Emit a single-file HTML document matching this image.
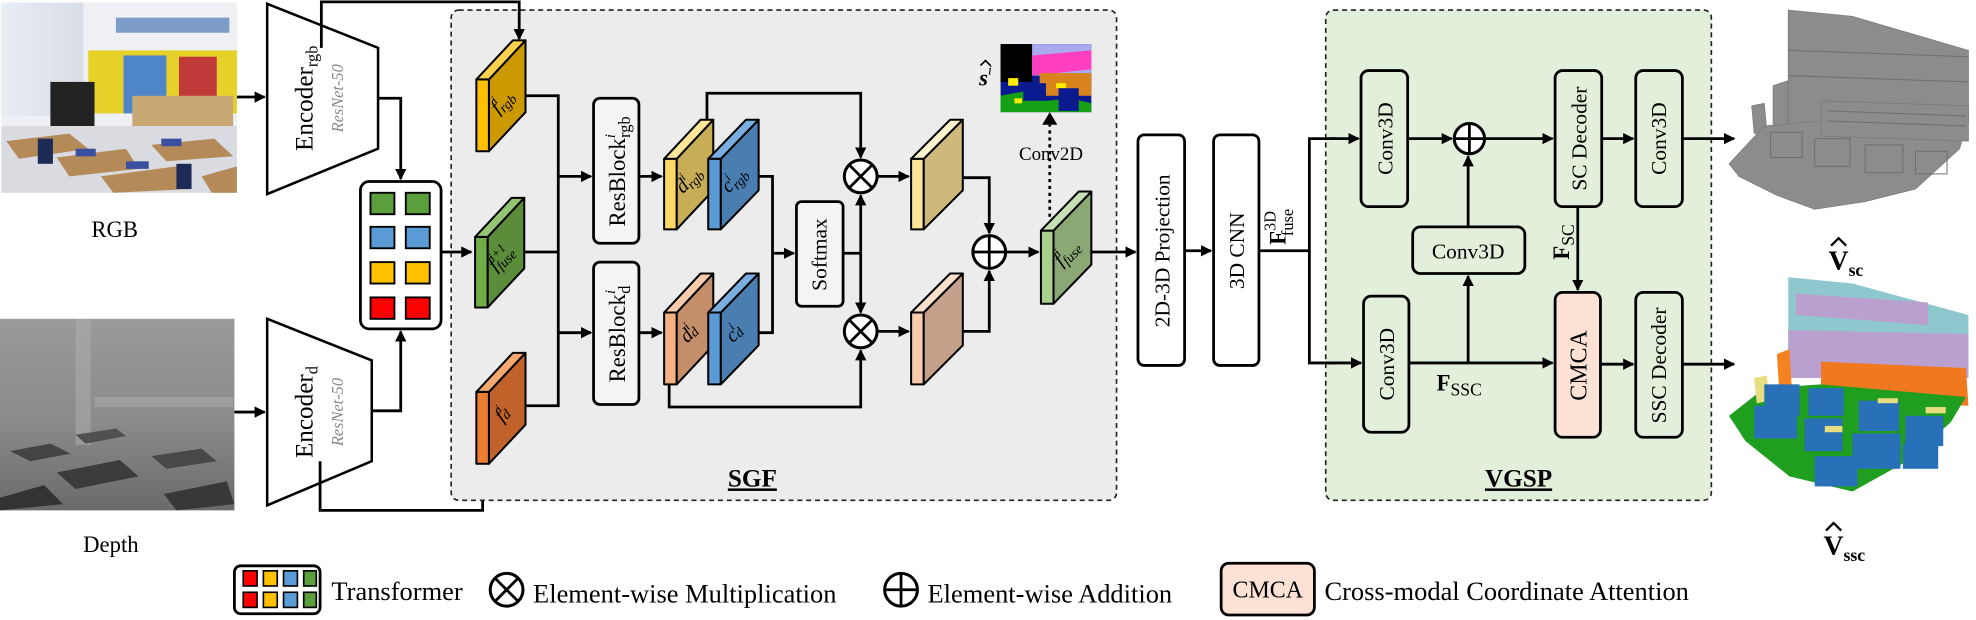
<!DOCTYPE html>
<html><head><meta charset="utf-8"><style>
html,body{margin:0;padding:0;background:#fff;}
svg{display:block;}
svg text{font-family:"Liberation Serif","Times New Roman",Times,"DejaVu Serif","Noto Serif CJK SC",serif;fill:#000;}
</style></head><body>
<svg width="1976" height="620" viewBox="0 0 1568 492" preserveAspectRatio="none" xmlns="http://www.w3.org/2000/svg">
<defs>
<marker id="ah" markerWidth="10" markerHeight="10" refX="8" refY="5" orient="auto" markerUnits="userSpaceOnUse">
<path d="M0,0.5 L9,5 L0,9.5 z" fill="#000"/>
</marker>
<linearGradient id="dg" x1="0" y1="0" x2="0" y2="1">
<stop offset="0" stop-color="#9a9a9a"/><stop offset="0.55" stop-color="#8a8a8a"/><stop offset="1" stop-color="#6a6a6a"/>
</linearGradient>
<linearGradient id="win" x1="0" y1="0" x2="1" y2="0">
<stop offset="0" stop-color="#e8eef5"/><stop offset="1" stop-color="#d8dde6"/>
</linearGradient>
</defs>

<!-- RGB photo -->
<g>
<rect x="1" y="2" width="187" height="151" fill="#eef0f4"/>
<rect x="1" y="2" width="65" height="90" fill="url(#win)"/>
<rect x="70" y="40" width="118" height="50" fill="#e6d02a"/>
<rect x="98" y="44" width="34" height="46" fill="#4f86c9"/>
<rect x="142" y="45" width="30" height="42" fill="#c03a3a"/>
<rect x="92" y="14" width="90" height="12" fill="#7d9cc8"/>
<rect x="40" y="65" width="35" height="35" fill="#222"/>
<rect x="105" y="76" width="80" height="30" fill="#c8a872"/>
<rect x="1" y="100" width="187" height="53" fill="#d9dbe0"/>
<polygon points="5,112 55,106 70,118 15,126" fill="#b48a58"/>
<polygon points="45,125 100,118 110,134 55,140" fill="#b48a58"/>
<polygon points="80,140 140,132 150,150 90,153" fill="#b48a58"/>
<polygon points="120,115 170,110 185,124 132,128" fill="#b48a58"/>
<polygon points="160,140 188,132 188,153 168,153" fill="#b48a58"/>
<rect x="60" y="118" width="16" height="6" fill="#3a4fa0"/>
<rect x="100" y="128" width="18" height="6" fill="#3a4fa0"/>
<rect x="128" y="110" width="16" height="6" fill="#3a4fa0"/>
<rect x="30" y="110" width="12" height="20" fill="#1d2a55"/>
<rect x="140" y="130" width="12" height="20" fill="#1d2a55"/>
</g>
<text x="91" y="188" font-size="18" text-anchor="middle">RGB</text>

<!-- Depth photo -->
<g>
<rect x="0" y="253" width="186" height="152" fill="url(#dg)"/>
<rect x="60" y="253" width="12" height="100" fill="#b0b0b0" opacity="0.5"/>
<polygon points="8,358 40,352 56,360 24,366" fill="#444"/>
<polygon points="45,375 95,365 110,378 60,388" fill="#3c3c3c"/>
<polygon points="120,362 160,356 172,366 132,372" fill="#484848"/>
<polygon points="60,345 92,340 100,346 68,352" fill="#505050"/>
<polygon points="0,395 35,385 50,400 0,405" fill="#333"/>
<polygon points="130,392 180,382 186,400 140,405" fill="#383838"/>
<rect x="75" y="315" width="110" height="8" fill="#a8a8a8" opacity="0.6"/>
</g>
<text x="88" y="438" font-size="18" text-anchor="middle">Depth</text>

<!-- Encoders -->
<polygon points="212,3 300,38 300,118 212,154" fill="#fff" stroke="#000" stroke-width="2"/>
<polygon points="212,253 295,286 295,366 212,401" fill="#fff" stroke="#000" stroke-width="2"/>
<text transform="translate(248,78) rotate(-90)" font-size="20" text-anchor="middle">Encoder<tspan font-size="13" dy="4">rgb</tspan></text>
<text transform="translate(272,78) rotate(-90)" font-size="13" font-style="italic" text-anchor="middle" style="fill:#888">ResNet-50</text>
<text transform="translate(248,327) rotate(-90)" font-size="20" text-anchor="middle">Encoder<tspan font-size="13" dy="4">d</tspan></text>
<text transform="translate(272,327) rotate(-90)" font-size="13" font-style="italic" text-anchor="middle" style="fill:#888">ResNet-50</text>

<g stroke="#000" stroke-width="2.2" fill="none">
<line x1="188" y1="77" x2="210" y2="77" marker-end="url(#ah)"/>
<line x1="186" y1="327" x2="210" y2="327" marker-end="url(#ah)"/>
<polyline points="300,78 318,78 318,142" marker-end="url(#ah)"/>
<polyline points="295,326 318,326 318,263" marker-end="url(#ah)"/>
<polyline points="255,38 255,1.5 412,1.5 412,31" marker-end="url(#ah)"/>
<polyline points="254,366 254,405 383,405 383,370" marker-end="url(#ah)"/>
</g>

<!-- SGF box -->
<rect x="358" y="8" width="528" height="389" rx="6" fill="#ececec" stroke="#222" stroke-width="1.3" stroke-dasharray="4,3"/>
<!-- VGSP box -->
<rect x="1052" y="8" width="306" height="389" rx="6" fill="#e2efda" stroke="#222" stroke-width="1.3" stroke-dasharray="4,3"/>
<line x1="412" y1="8" x2="412" y2="31" stroke="#000" stroke-width="2.2" marker-end="url(#ah)"/>

<!-- Transformer -->
<rect x="286" y="144" width="64" height="117" rx="7" fill="#fff" stroke="#000" stroke-width="2.2"/>
<g stroke="#000" stroke-width="1.5">
<rect x="294" y="153" width="19" height="17" fill="#5b9e3c"/><rect x="322" y="153" width="19" height="17" fill="#5b9e3c"/>
<rect x="294" y="180" width="19" height="17" fill="#5b9bd5"/><rect x="322" y="180" width="19" height="17" fill="#5b9bd5"/>
<rect x="294" y="208" width="19" height="17" fill="#ffc000"/><rect x="322" y="208" width="19" height="17" fill="#ffc000"/>
<rect x="294" y="236" width="19" height="17" fill="#ff0000"/><rect x="322" y="236" width="19" height="17" fill="#ff0000"/>
</g>
<line x1="350" y1="200" x2="374" y2="200" stroke="#000" stroke-width="2.2" marker-end="url(#ah)"/>

<!-- Blocks -->
<g stroke="#000" stroke-width="1.6" stroke-linejoin="round">
<g transform="translate(378,63)"><rect x="0" y="0" width="10" height="57" fill="#ffc000"/><polygon points="10,0 39,-31 39,26 10,57" fill="#cc9a00"/><polygon points="0,0 10,0 39,-31 29,-31" fill="#ffd24d"/></g>
<g transform="translate(377,188)"><rect x="0" y="0" width="10" height="56" fill="#70ad47"/><polygon points="10,0 39,-31 39,25 10,56" fill="#5b8c3a"/><polygon points="0,0 10,0 39,-31 29,-31" fill="#93c572"/></g>
<g transform="translate(378,311)"><rect x="0" y="0" width="10" height="57" fill="#ed7d31"/><polygon points="10,0 39,-31 39,26 10,57" fill="#c0622a"/><polygon points="0,0 10,0 39,-31 29,-31" fill="#f4a870"/></g>
<g transform="translate(527,126)"><rect x="0" y="0" width="10" height="56" fill="#ffd966"/><polygon points="10,0 39,-31 39,25 10,56" fill="#c8ad57"/><polygon points="0,0 10,0 39,-31 29,-31" fill="#ffe699"/></g>
<g transform="translate(562,126)"><rect x="0" y="0" width="10" height="56" fill="#5b9bd5"/><polygon points="10,0 40,-31 40,25 10,56" fill="#4a7db0"/><polygon points="0,0 10,0 40,-31 30,-31" fill="#7aaee0"/></g>
<g transform="translate(527,248)"><rect x="0" y="0" width="10" height="57" fill="#f4b183"/><polygon points="10,0 39,-31 39,26 10,57" fill="#c48e6a"/><polygon points="0,0 10,0 39,-31 29,-31" fill="#f8cbad"/></g>
<g transform="translate(562,248)"><rect x="0" y="0" width="10" height="57" fill="#5b9bd5"/><polygon points="10,0 40,-31 40,26 10,57" fill="#4a7db0"/><polygon points="0,0 10,0 40,-31 30,-31" fill="#7aaee0"/></g>
<g transform="translate(723,126)"><rect x="0" y="0" width="10" height="56" fill="#ffe699"/><polygon points="10,0 41,-31 41,25 10,56" fill="#cdb97c"/><polygon points="0,0 10,0 41,-31 31,-31" fill="#fff2cc"/></g>
<g transform="translate(723,248)"><rect x="0" y="0" width="10" height="57" fill="#f8cbad"/><polygon points="10,0 41,-31 41,26 10,57" fill="#c5a08a"/><polygon points="0,0 10,0 41,-31 31,-31" fill="#fbe0ce"/></g>
<g transform="translate(826,183)"><rect x="0" y="0" width="10" height="58" fill="#a9d18e"/><polygon points="10,0 40,-31 40,27 10,58" fill="#8aa874"/><polygon points="0,0 10,0 40,-31 30,-31" fill="#c5e0b4"/></g>
</g>
<!-- block labels -->
<g font-style="italic" font-size="16">
<text transform="translate(402,84) rotate(-45)" text-anchor="middle">f<tspan font-size="10" dy="-7">i</tspan><tspan font-size="11" dx="-3" dy="10">rgb</tspan></text>
<text transform="translate(401,208) rotate(-45)" text-anchor="middle">f<tspan font-size="10" dy="-7">i+1</tspan><tspan font-size="11" dx="-15" dy="10">fuse</tspan></text>
<text transform="translate(402,332) rotate(-45)" text-anchor="middle">f<tspan font-size="10" dy="-7">i</tspan><tspan font-size="11" dx="-3" dy="8">d</tspan></text>
<text transform="translate(550,146) rotate(-45)" text-anchor="middle">d<tspan font-size="10" dy="-7">i</tspan><tspan font-size="11" dx="-3" dy="10">rgb</tspan></text>
<text transform="translate(586,146) rotate(-45)" text-anchor="middle">c<tspan font-size="10" dy="-7">i</tspan><tspan font-size="11" dx="-3" dy="10">rgb</tspan></text>
<text transform="translate(550,268) rotate(-45)" text-anchor="middle">d<tspan font-size="10" dy="-7">i</tspan><tspan font-size="11" dx="-3" dy="8">d</tspan></text>
<text transform="translate(586,268) rotate(-45)" text-anchor="middle">c<tspan font-size="10" dy="-7">i</tspan><tspan font-size="11" dx="-3" dy="8">d</tspan></text>
<text transform="translate(850,204) rotate(-45)" text-anchor="middle">f<tspan font-size="10" dy="-7">i</tspan><tspan font-size="11" dx="-3" dy="10">fuse</tspan></text>
</g>

<!-- SGF connectors -->
<g stroke="#000" stroke-width="2.2" fill="none">
<polyline points="417,76 443,76 443,322 417,322"/>
<line x1="416" y1="200" x2="443" y2="200"/>
<line x1="443" y1="140" x2="469" y2="140" marker-end="url(#ah)"/>
<line x1="443" y1="264" x2="469" y2="264" marker-end="url(#ah)"/>
<line x1="507" y1="140" x2="525" y2="140" marker-end="url(#ah)"/>
<line x1="507" y1="264" x2="525" y2="264" marker-end="url(#ah)"/>
<polyline points="561,95 561,74 683,74 683,125" marker-end="url(#ah)"/>
<polyline points="602,140 613,140 613,264 602,264"/>
<line x1="613" y1="201" x2="630" y2="201" marker-end="url(#ah)"/>
<line x1="669" y1="201" x2="683" y2="201"/>
<line x1="683" y1="201" x2="683" y2="155" marker-end="url(#ah)"/>
<line x1="683" y1="201" x2="683" y2="248" marker-end="url(#ah)"/>
<polyline points="531,305 531,323 683,323 683,278" marker-end="url(#ah)"/>
<line x1="696" y1="140" x2="721" y2="140" marker-end="url(#ah)"/>
<line x1="696" y1="263" x2="721" y2="263" marker-end="url(#ah)"/>
<polyline points="764,141 785,141 785,185" marker-end="url(#ah)"/>
<polyline points="764,263 785,263 785,215" marker-end="url(#ah)"/>
<line x1="798" y1="200" x2="824" y2="200" marker-end="url(#ah)"/>
<line x1="833" y1="172" x2="833" y2="99" stroke-dasharray="2.5,3"/>
</g>
<path d="M827,99 L833,89 L839,99 z" fill="#000"/>
<!-- circles -->
<g stroke="#000" stroke-width="2.4" fill="#fff">
<circle cx="683" cy="140" r="13"/><circle cx="683" cy="263" r="13"/>
<circle cx="785" cy="200" r="13"/><circle cx="1166" cy="110" r="12"/>
</g>
<g stroke="#000" stroke-width="2.2">
<line x1="674" y1="131" x2="692" y2="149"/><line x1="692" y1="131" x2="674" y2="149"/>
<line x1="674" y1="254" x2="692" y2="272"/><line x1="692" y1="254" x2="674" y2="272"/>
<line x1="772" y1="200" x2="798" y2="200"/><line x1="785" y1="187" x2="785" y2="213"/>
<line x1="1154" y1="110" x2="1178" y2="110"/><line x1="1166" y1="98" x2="1166" y2="122"/>
</g>

<!-- ResBlocks & Softmax -->
<g stroke="#000" stroke-width="2.2">
<rect x="471" y="78" width="36" height="115" rx="5" fill="#f4f4f4"/>
<rect x="471" y="208" width="36" height="113" rx="5" fill="#f4f4f4"/>
<rect x="632" y="160" width="37" height="83" rx="4" fill="#f4f4f4"/>
</g>
<text transform="translate(496,136) rotate(-90)" font-size="18" text-anchor="middle">ResBlock<tspan font-size="12" font-style="italic" dy="-8">i</tspan><tspan font-size="13" dx="-3" dy="12">rgb</tspan></text>
<text transform="translate(496,265) rotate(-90)" font-size="18" text-anchor="middle">ResBlock<tspan font-size="12" font-style="italic" dy="-8">i</tspan><tspan font-size="13" dx="-3" dy="12">d</tspan></text>
<text transform="translate(656,202) rotate(-90)" font-size="17" text-anchor="middle">Softmax</text>

<!-- seg image -->
<g>
<rect x="794" y="35" width="72" height="54" fill="#0b1a8f"/>
<rect x="794" y="35" width="25" height="30" fill="#000"/>
<rect x="819" y="35" width="47" height="25" fill="#a9a9f0"/>
<polygon points="819,44 866,40 866,55 819,60" fill="#ff3fbf"/>
<rect x="825" y="58" width="41" height="18" fill="#d8831c"/>
<polygon points="794,76 815,72 830,80 850,78 866,82 866,89 794,89" fill="#15a015"/>
<rect x="800" y="62" width="8" height="6" fill="#ffee00"/><rect x="838" y="66" width="8" height="4" fill="#ffee00"/>
<rect x="805" y="78" width="6" height="4" fill="#ffee00"/>
<rect x="812" y="66" width="18" height="14" fill="#0b1a8f"/><rect x="840" y="70" width="16" height="18" fill="#0b1a8f"/>
</g>
<text x="777" y="68" font-size="18" font-weight="bold" font-style="italic">s<tspan font-size="11" font-weight="normal" dy="-9">i</tspan></text>
<polyline points="778,52 782,48 786,52" fill="none" stroke="#000" stroke-width="1.3"/>
<text x="834" y="127" font-size="15" text-anchor="middle">Conv2D</text>
<text x="597" y="386" font-size="20" font-weight="bold" text-anchor="middle" text-decoration="underline">SGF</text>

<!-- 2D-3D projection, 3D CNN -->
<g fill="#fff" stroke="#000" stroke-width="2.2">
<rect x="903" y="107" width="37" height="183" rx="5"/>
<rect x="963" y="107" width="36" height="183" rx="5"/>
</g>
<text transform="translate(928,199) rotate(-90)" font-size="17" text-anchor="middle">2D-3D Projection</text>
<text transform="translate(987,199) rotate(-90)" font-size="17" text-anchor="middle">3D CNN</text>
<g stroke="#000" stroke-width="2.2" fill="none">
<line x1="866" y1="200" x2="901" y2="200" marker-end="url(#ah)"/>
<line x1="940" y1="199" x2="961" y2="199" marker-end="url(#ah)"/>
<line x1="999" y1="199" x2="1039" y2="199"/>
<polyline points="1060,110 1039,110 1039,288 1060,288"/>
<line x1="1055" y1="110" x2="1078" y2="110" marker-end="url(#ah)"/>
<line x1="1055" y1="288" x2="1080" y2="288" marker-end="url(#ah)"/>
</g>
<text transform="translate(1020,180) rotate(-90)" font-size="18" font-weight="bold" text-anchor="middle">F<tspan font-size="13" font-weight="normal" dy="-8">3D</tspan><tspan font-size="13" font-weight="normal" dx="-20" dy="14">fuse</tspan></text>

<!-- VGSP contents -->
<g fill="#e2efda" stroke="#000" stroke-width="2.2">
<rect x="1080" y="56" width="37" height="108" rx="6"/>
<rect x="1082" y="235" width="36" height="108" rx="6"/>
<rect x="1121" y="180" width="89" height="37" rx="6"/>
<rect x="1234" y="56" width="37" height="108" rx="6"/>
<rect x="1298" y="56" width="37" height="108" rx="6"/>
<rect x="1234" y="232" width="36" height="115" rx="6" fill="#fbe2d5"/>
<rect x="1298" y="232" width="37" height="115" rx="6"/>
</g>
<g font-size="17" text-anchor="middle">
<text transform="translate(1105,110) rotate(-90)">Conv3D</text>
<text transform="translate(1106,289) rotate(-90)">Conv3D</text>
<text x="1165" y="205">Conv3D</text>
<text transform="translate(1259,110) rotate(-90)">SC Decoder</text>
<text transform="translate(1322,110) rotate(-90)">Conv3D</text>
<text transform="translate(1259,290) rotate(-90)" font-size="19">CMCA</text>
<text transform="translate(1322,290) rotate(-90)">SSC Decoder</text>
</g>
<g stroke="#000" stroke-width="2.2" fill="none">
<line x1="1117" y1="110" x2="1152" y2="110" marker-end="url(#ah)"/>
<line x1="1178" y1="110" x2="1232" y2="110" marker-end="url(#ah)"/>
<line x1="1271" y1="110" x2="1296" y2="110" marker-end="url(#ah)"/>
<line x1="1335" y1="110" x2="1376" y2="110" marker-end="url(#ah)"/>
<line x1="1165" y1="180" x2="1165" y2="124" marker-end="url(#ah)"/>
<line x1="1118" y1="288" x2="1232" y2="288" marker-end="url(#ah)"/>
<line x1="1165" y1="288" x2="1165" y2="219" marker-end="url(#ah)"/>
<line x1="1252" y1="164" x2="1252" y2="230" marker-end="url(#ah)"/>
<line x1="1270" y1="289" x2="1296" y2="289" marker-end="url(#ah)"/>
<line x1="1335" y1="289" x2="1376" y2="289" marker-end="url(#ah)"/>
</g>
<text transform="translate(1245,192) rotate(-90)" font-size="18" font-weight="bold" text-anchor="middle">F<tspan font-size="14" font-weight="normal" dy="4">SC</tspan></text>
<text x="1140" y="310" font-size="18" font-weight="bold">F<tspan font-size="14" font-weight="normal" dy="4">SSC</tspan></text>
<text x="1205" y="386" font-size="20" font-weight="bold" text-anchor="middle" text-decoration="underline">VGSP</text>

<!-- Voxel SC -->
<g fill="#8c8c8c" stroke="#7a7a7a" stroke-width="0.6">
<polygon points="1419,8 1470,13 1562,40 1562,98 1419,98"/>
<polygon points="1407,68 1419,64 1419,100 1407,102"/>
<polygon points="1390,84 1400,82 1402,104 1392,106"/>
<polygon points="1372,130 1400,100 1445,96 1560,100 1555,118 1520,150 1480,160 1440,166 1410,155 1380,140"/>
<polygon points="1445,80 1562,84 1562,112 1445,108"/>
</g>
<g stroke="#6e6e6e" stroke-width="0.8" fill="none">
<line x1="1419" y1="40" x2="1562" y2="45"/><line x1="1419" y1="60" x2="1562" y2="65"/>
<line x1="1450" y1="88" x2="1560" y2="92"/><line x1="1450" y1="96" x2="1560" y2="100"/>
<rect x="1405" y="105" width="25" height="20"/><rect x="1440" y="110" width="28" height="22"/>
<rect x="1480" y="115" width="30" height="22"/><rect x="1520" y="120" width="25" height="18"/>
</g>
<text x="1451" y="214" font-size="22" font-weight="bold">V<tspan font-size="14" dy="5">sc</tspan></text>
<polyline points="1453,195 1459,189 1465,195" fill="none" stroke="#000" stroke-width="1.8"/>

<!-- Voxel SSC -->
<g stroke-width="0.6">
<polygon points="1419,220 1470,225 1562,250 1562,300 1419,300" fill="#8fc7cf"/>
<polygon points="1425,233 1530,240 1530,258 1425,250" fill="#b9a0cf"/>
<polygon points="1419,262 1562,265 1562,300 1419,300" fill="#b9a0cf"/>
<polygon points="1410,281 1420,277 1422,310 1412,312" fill="#f58220"/>
<polygon points="1445,287 1560,292 1562,322 1445,318" fill="#f0781e"/>
<polygon points="1372,330 1400,308 1445,305 1560,315 1548,335 1515,365 1470,390 1420,378 1385,350" fill="#1f9e1f"/>
<polygon points="1392,300 1402,298 1404,318 1394,320" fill="#e6de80"/>
<g fill="#2870b8">
<rect x="1400" y="305" width="28" height="25"/><rect x="1435" y="308" width="28" height="22"/>
<rect x="1392" y="322" width="34" height="26"/><rect x="1432" y="332" width="30" height="26"/>
<rect x="1475" y="318" width="32" height="24"/><rect x="1470" y="344" width="38" height="28"/>
<rect x="1512" y="330" width="30" height="24"/><rect x="1510" y="352" width="28" height="20"/>
<rect x="1440" y="362" width="34" height="24"/>
</g>
<rect x="1448" y="338" width="14" height="5" fill="#e6de80"/><rect x="1490" y="316" width="16" height="4" fill="#e6de80"/>
<rect x="1528" y="323" width="16" height="5" fill="#e6de80"/>
</g>
<text x="1447" y="440" font-size="22" font-weight="bold">V<tspan font-size="14" dy="5">ssc</tspan></text>
<polyline points="1449,421 1455,415 1461,421" fill="none" stroke="#000" stroke-width="1.8"/>

<!-- Legend -->
<rect x="186" y="449" width="68" height="38" rx="5" fill="#fff" stroke="#000" stroke-width="2.2"/>
<g stroke="#000" stroke-width="1.3">
<rect x="193" y="453" width="11" height="12" fill="#ff0000"/><rect x="209" y="453" width="11" height="12" fill="#ffc000"/><rect x="225" y="453" width="11" height="12" fill="#5b9bd5"/><rect x="241" y="453" width="10" height="12" fill="#5b9e3c"/>
<rect x="193" y="470" width="11" height="12" fill="#ff0000"/><rect x="209" y="470" width="11" height="12" fill="#ffc000"/><rect x="225" y="470" width="11" height="12" fill="#5b9bd5"/><rect x="241" y="470" width="10" height="12" fill="#5b9e3c"/>
</g>
<text x="263" y="476" font-size="21">Transformer</text>
<circle cx="402" cy="468" r="13" fill="#fff" stroke="#000" stroke-width="2.4"/>
<line x1="393" y1="459" x2="411" y2="477" stroke="#000" stroke-width="2.2"/><line x1="411" y1="459" x2="393" y2="477" stroke="#000" stroke-width="2.2"/>
<text x="423" y="478" font-size="21">Element-wise Multiplication</text>
<circle cx="715" cy="468" r="13" fill="#fff" stroke="#000" stroke-width="2.4"/>
<line x1="702" y1="468" x2="728" y2="468" stroke="#000" stroke-width="2.2"/><line x1="715" y1="455" x2="715" y2="481" stroke="#000" stroke-width="2.2"/>
<text x="736" y="478" font-size="21">Element-wise Addition</text>
<rect x="969" y="447" width="74" height="41" rx="6" fill="#fbe2d5" stroke="#000" stroke-width="2.2"/>
<text x="1006" y="474" font-size="19" text-anchor="middle">CMCA</text>
<text x="1051" y="476" font-size="21">Cross-modal Coordinate Attention</text>
</svg>
</body></html>
